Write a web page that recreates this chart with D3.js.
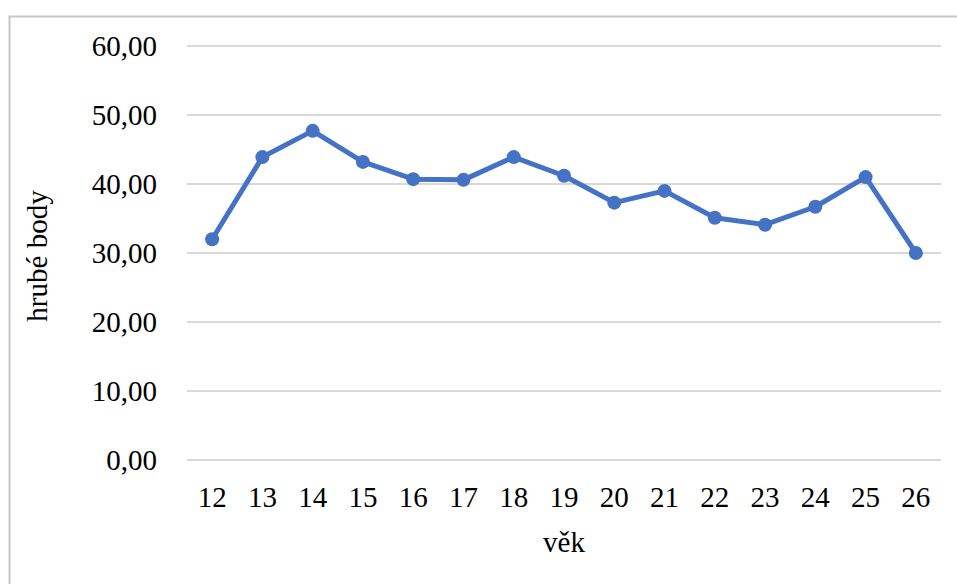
<!DOCTYPE html>
<html>
<head>
<meta charset="utf-8">
<script src="https://cdn.jsdelivr.net/npm/d3@7"></script>
<style>
    body { margin: 0; background: #fff; }
    svg text { font-family: 'Liberation Serif', 'Times New Roman', serif; fill: #000; }
</style>
</head>
<body>
<div id="chart"></div>
<script>
// ages on the x axis
const ages = ['12', '13', '14', '15', '16', '17', '18', '19', '20', '21', '22', '23', '24', '25', '26'];

// raw score per age
const scores = [32.0, 43.9, 47.7, 43.2, 40.7, 40.6, 43.9, 41.2, 37.3, 39.0, 35.1, 34.1, 36.7, 41.0, 30.0];

const yTicks = [0, 10, 20, 30, 40, 50, 60];

const width = 957;
const height = 584;
const margin = { top: 46, right: 16, bottom: 124, left: 187 };
const fontSize = 29;

const svg = d3.select('#chart').append('svg')
    .attr('width', width)
    .attr('height', height);

// outer chart frame (cut off at right and bottom like the screenshot)
svg.append('path')
    .attr('d', `M9.5,${height}V16.5H${width}`)
    .attr('fill', 'none')
    .attr('stroke', '#c8c8c8')
    .attr('stroke-width', 2);

const x = d3.scaleBand()
    .domain(ages)
    .range([margin.left, width - margin.right]);

const y = d3.scaleLinear()
    .domain([0, 60])
    .range([height - margin.bottom, margin.top]);

// gridlines
svg.append('g')
    .selectAll('line')
    .data(yTicks)
    .join('line')
    .attr('x1', margin.left)
    .attr('x2', width - margin.right)
    .attr('y1', d => y(d))
    .attr('y2', d => y(d))
    .attr('stroke', '#d9d9d9')
    .attr('stroke-width', 2);

// y labels
const fmt = d => d3.format('.2f')(d).replace('.', ',');
svg.append('g')
    .selectAll('text')
    .data(yTicks)
    .join('text')
    .attr('x', 157)
    .attr('y', d => y(d))
    .attr('dy', '0.33em')
    .attr('text-anchor', 'end')
    .attr('font-size', fontSize)
    .text(fmt);

// x labels
svg.append('g')
    .selectAll('text')
    .data(ages)
    .join('text')
    .attr('x', d => x(d) + x.bandwidth() / 2)
    .attr('y', 507)
    .attr('text-anchor', 'middle')
    .attr('font-size', fontSize)
    .text(d => d);

// axis titles
svg.append('text')
    .attr('x', (margin.left + width - margin.right) / 2)
    .attr('y', 552)
    .attr('text-anchor', 'middle')
    .attr('font-size', fontSize)
    .text('věk');

svg.append('text')
    .attr('transform', `translate(47, 256) rotate(-90)`)
    .attr('text-anchor', 'middle')
    .attr('font-size', fontSize)
    .text('hrubé body');

// line + markers
const pts = ages.map((a, i) => [x(a) + x.bandwidth() / 2, y(scores[i])]);

svg.append('path')
    .datum(pts)
    .attr('d', d3.line())
    .attr('fill', 'none')
    .attr('stroke', '#4472c4')
    .attr('stroke-width', 5)
    .attr('stroke-linejoin', 'round');

svg.append('g')
    .selectAll('circle')
    .data(pts)
    .join('circle')
    .attr('cx', d => d[0])
    .attr('cy', d => d[1])
    .attr('r', 7)
    .attr('fill', '#4472c4');
</script>
</body>
</html>
